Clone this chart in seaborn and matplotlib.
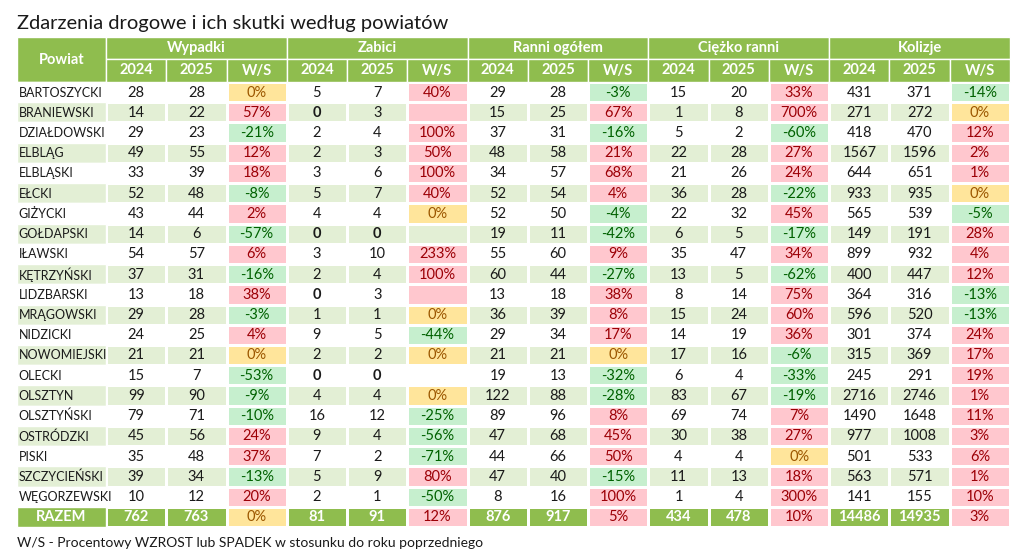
import numpy as np
import matplotlib
matplotlib.use("Agg")
import matplotlib.pyplot as plt
from matplotlib.colors import ListedColormap
from matplotlib.patches import Rectangle
import seaborn as sns

title = "Zdarzenia drogowe i ich skutki według powiatów"
footnote = "W/S - Procentowy WZROST lub SPADEK w stosunku do roku poprzedniego"
groups = ["Wypadki", "Zabici", "Ranni ogółem", "Ciężko ranni", "Kolizje"]
subcols = ["2024", "2025", "W/S"]
first_col = "Powiat"
total_label = "RAZEM"

districts = ["BARTOSZYCKI", "BRANIEWSKI", "DZIAŁDOWSKI", "ELBLĄG", "ELBLĄSKI", "EŁCKI",
             "GIŻYCKI", "GOŁDAPSKI", "IŁAWSKI", "KĘTRZYŃSKI", "LIDZBARSKI", "MRĄGOWSKI",
             "NIDZICKI", "NOWOMIEJSKI", "OLECKI", "OLSZTYN", "OLSZTYŃSKI", "OSTRÓDZKI",
             "PISKI", "SZCZYCIEŃSKI", "WĘGORZEWSKI"]

wypadki_2024 = [28, 14, 29, 49, 33, 52, 43, 14, 54, 37, 13, 29, 24, 21, 15, 99, 79, 45, 35, 39, 10]
wypadki_2025 = [28, 22, 23, 55, 39, 48, 44, 6, 57, 31, 18, 28, 25, 21, 7, 90, 71, 56, 48, 34, 12]
wypadki_ws = [0, 57, -21, 12, 18, -8, 2, -57, 6, -16, 38, -3, 4, 0, -53, -9, -10, 24, 37, -13, 20]

zabici_2024 = [5, 0, 2, 2, 3, 5, 4, 0, 3, 2, 0, 1, 9, 2, 0, 4, 16, 9, 7, 5, 2]
zabici_2025 = [7, 3, 4, 3, 6, 7, 4, 0, 10, 4, 3, 1, 5, 2, 0, 4, 12, 4, 2, 9, 1]
zabici_ws = [40, None, 100, 50, 100, 40, 0, None, 233, 100, None, 0, -44, 0, None, 0, -25, -56, -71, 80, -50]

ranni_2024 = [29, 15, 37, 48, 34, 52, 52, 19, 55, 60, 13, 36, 29, 21, 19, 122, 89, 47, 44, 47, 8]
ranni_2025 = [28, 25, 31, 58, 57, 54, 50, 11, 60, 44, 18, 39, 34, 21, 13, 88, 96, 68, 66, 40, 16]
ranni_ws = [-3, 67, -16, 21, 68, 4, -4, -42, 9, -27, 38, 8, 17, 0, -32, -28, 8, 45, 50, -15, 100]

ciezko_2024 = [15, 1, 5, 22, 21, 36, 22, 6, 35, 13, 8, 15, 14, 17, 6, 83, 69, 30, 4, 11, 1]
ciezko_2025 = [20, 8, 2, 28, 26, 28, 32, 5, 47, 5, 14, 24, 19, 16, 4, 67, 74, 38, 4, 13, 4]
ciezko_ws = [33, 700, -60, 27, 24, -22, 45, -17, 34, -62, 75, 60, 36, -6, -33, -19, 7, 27, 0, 18, 300]

kolizje_2024 = [431, 271, 418, 1567, 644, 933, 565, 149, 899, 400, 364, 596, 301, 315, 245, 2716, 1490, 977, 501, 563, 141]
kolizje_2025 = [371, 272, 470, 1596, 651, 935, 539, 191, 932, 447, 316, 520, 374, 369, 291, 2746, 1648, 1008, 533, 571, 155]
kolizje_ws = [-14, 0, 12, 2, 1, 0, -5, 28, 4, 12, -13, -13, 24, 17, 19, 1, 11, 3, 6, 1, 10]

totals_2024 = [762, 81, 876, 434, 14486]
totals_2025 = [763, 91, 917, 478, 14935]
totals_ws = [0, 12, 5, 10, 3]

series = [
    (wypadki_2024, wypadki_2025, wypadki_ws),
    (zabici_2024, zabici_2025, zabici_ws),
    (ranni_2024, ranni_2025, ranni_ws),
    (ciezko_2024, ciezko_2025, ciezko_ws),
    (kolizje_2024, kolizje_2025, kolizje_ws),
]

# colours
WHITE = "#ffffff"
ROWGREEN = "#e3efd5"
RED_BG, RED_TX = "#ffc7ce", "#9c0006"
GRN_BG, GRN_TX = "#c6efce", "#006100"
YEL_BG, YEL_TX = "#ffe59b", "#9c5700"
HEAD = "#8fbd4e"
TEXT = "#1a1a1a"

sns.set_theme(style="white")
plt.rcParams["font.family"] = ["Lato", "DejaVu Sans"]

n = len(districts)
nrows = n + 1
ncols = len(groups) * 3

def ws_code(val, after):
    if val is None:
        return 2 if after > 0 else None
    if val > 0:
        return 2
    if val < 0:
        return 3
    return 4

codes = np.zeros((nrows, ncols))
for i in range(n):
    base = 0 if i % 2 == 0 else 1
    for g, (a, b, w) in enumerate(series):
        codes[i, 3 * g] = base
        codes[i, 3 * g + 1] = base
        c = ws_code(w[i], b[i])
        codes[i, 3 * g + 2] = base if c is None else c
for g in range(len(groups)):
    codes[n, 3 * g] = 5
    codes[n, 3 * g + 1] = 5
    codes[n, 3 * g + 2] = ws_code(totals_ws[g], totals_2025[g])

cmap = ListedColormap([WHITE, ROWGREEN, RED_BG, GRN_BG, YEL_BG, HEAD])

fig = plt.figure(figsize=(10.24, 5.6), dpi=100)
W, H = 1024, 560
ax = fig.add_axes([106 / W, 1 - 527 / H, 904 / W, 445 / H])
sns.heatmap(codes, cmap=cmap, vmin=-0.5, vmax=5.5, cbar=False, linewidths=1,
            linecolor="white", ax=ax, xticklabels=False, yticklabels=False)
for s in ax.spines.values():
    s.set_visible(False)
ax.set_xticks([])
ax.set_yticks([])

unit_y = 445 / nrows
unit_x = 904 / ncols
h2 = 23 / unit_y
h1 = 22 / unit_y
pw = 89 / unit_x

def rect(x, y, w, h, color):
    ax.add_patch(Rectangle((x, y), w, h, facecolor=color, edgecolor="white",
                           linewidth=1, clip_on=False, zorder=3))

# header
rect(-pw, -(h1 + h2), pw, h1 + h2, HEAD)
ax.text(-pw / 2, -(h1 + h2) / 2, first_col, ha="center", va="center", color="white",
        fontsize=10.5, fontweight="bold", clip_on=False, zorder=4)
for g, name in enumerate(groups):
    rect(3 * g, -(h1 + h2), 3, h1, HEAD)
    ax.text(3 * g + 1.5, -h2 - h1 / 2, name, ha="center", va="center", color="white",
            fontsize=10.5, fontweight="bold", zorder=4)
    for k, sc in enumerate(subcols):
        rect(3 * g + k, -h2, 1, h2, HEAD)
        ax.text(3 * g + k + 0.5, -h2 / 2, sc, ha="center", va="center", color="white",
                fontsize=10.5, fontweight="bold", zorder=4)

# district column
for i, d in enumerate(districts):
    rect(-pw, i, pw, 1, WHITE if i % 2 == 0 else ROWGREEN)
    ax.text(-pw + 0.03, i + 0.52, d, ha="left", va="center", color=TEXT,
            fontsize=9, zorder=4, clip_on=False)
rect(-pw, n, pw, 1, HEAD)
ax.text(-pw / 2, n + 0.52, total_label, ha="center", va="center", color="white",
        fontsize=10.5, fontweight="bold", zorder=4, clip_on=False)

tx_col = {2: RED_TX, 3: GRN_TX, 4: YEL_TX}
for g, (a, b, w) in enumerate(series):
    for i in range(n):
        for k, v in enumerate((a[i], b[i])):
            ax.text(3 * g + k + 0.5, i + 0.52, str(v), ha="center", va="center",
                    color=TEXT, fontsize=10.5,
                    fontweight="bold" if v == 0 and g == 1 else "normal", zorder=4)
        if w[i] is not None:
            c = int(codes[i, 3 * g + 2])
            ax.text(3 * g + 2.5, i + 0.52, f"{w[i]}%", ha="center", va="center",
                    color=tx_col[c], fontsize=10.5, zorder=4)
    for k, v in enumerate((totals_2024[g], totals_2025[g])):
        ax.text(3 * g + k + 0.5, n + 0.52, str(v), ha="center", va="center",
                color="white", fontsize=10.5, fontweight="bold", zorder=4)
    c = int(codes[n, 3 * g + 2])
    ax.text(3 * g + 2.5, n + 0.52, f"{totals_ws[g]}%", ha="center", va="center",
            color=tx_col[c], fontsize=10.5, zorder=4)

fig.text(17 / W, 1 - 23 / H, title, ha="left", va="center", fontsize=14.5, color=TEXT)
fig.text(17 / W, 1 - 543 / H, footnote, ha="left", va="center", fontsize=10, color=TEXT)

fig.savefig("out.png", dpi=100, facecolor="white")
